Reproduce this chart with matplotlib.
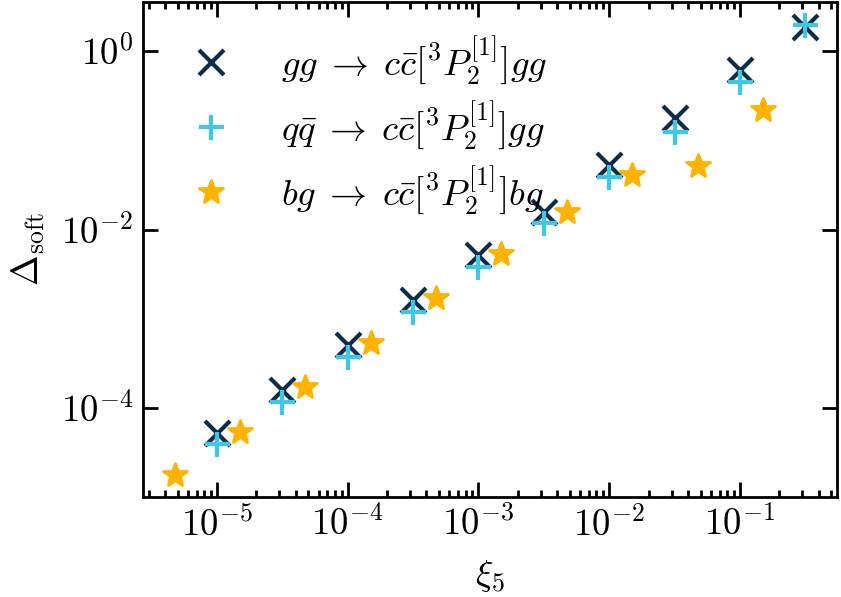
import matplotlib
matplotlib.use("Agg")
import matplotlib.pyplot as plt
from matplotlib.markers import MarkerStyle
import numpy as np

plt.rcParams['mathtext.fontset'] = 'cm'
plt.rcParams['font.family'] = 'serif'
plt.rcParams['font.serif'] = ['DejaVu Serif']

# data
xi_gg = [1e-5, 3.16e-5, 1e-4, 3.16e-4, 1e-3, 3.16e-3, 1e-2, 3.16e-2, 1e-1, 3.16e-1]
d_gg = [5.2e-5, 1.6e-4, 5.1e-4, 1.6e-3, 5.2e-3, 1.58e-2, 5.3e-2, 0.18, 0.62, 1.86]
xi_qq = [1e-5, 3.16e-5, 1e-4, 3.16e-4, 1e-3, 3.16e-3, 1e-2, 3.16e-2, 1e-1, 3.16e-1]
d_qq = [3.9e-5, 1.17e-4, 3.7e-4, 1.2e-3, 3.8e-3, 1.18e-2, 3.9e-2, 0.124, 0.45, 2.0]
xi_bg = [4.74e-6, 1.5e-5, 4.74e-5, 1.5e-4, 4.74e-4, 1.5e-3, 4.74e-3, 1.5e-2, 4.74e-2, 1.5e-1]
d_bg = [1.78e-5, 5.4e-5, 1.73e-4, 5.3e-4, 1.7e-3, 5.3e-3, 1.58e-2, 4.1e-2, 5.1e-2, 0.22]

labels = [r'$gg\;\to\;c\bar{c}[^3P_2^{[1]}]gg$',
          r'$q\bar{q}\;\to\;c\bar{c}[^3P_2^{[1]}]gg$',
          r'$bg\;\to\;c\bar{c}[^3P_2^{[1]}]bg$']
xlabel = r'$\xi_5$'
ylabel = r'$\Delta_{\rm soft}$'
xticks = [1e-5, 1e-4, 1e-3, 1e-2, 1e-1]
yticks = [1e-4, 1e-2, 1e0]

c_gg = '#0b2d4b'
c_qq = '#3ec7e6'
c_bg = '#ffb300'

fs = 26.5
fig = plt.figure(figsize=(8.41, 5.97), dpi=100)
ax = fig.add_axes([0.170, 0.1675, 0.825, 0.8291])

star = MarkerStyle('*', joinstyle='round')
ax.plot(xi_gg, d_gg, ls='none', marker='x', ms=18, mew=3, color=c_gg, label=labels[0])
ax.plot(xi_qq, d_qq, ls='none', marker='+', ms=18, mew=3, color=c_qq, label=labels[1])
ax.plot(xi_bg, d_bg, ls='none', marker=star, ms=18, mew=2, color=c_bg, mec=c_bg, label=labels[2])

ax.set_xscale('log')
ax.set_yscale('log')

def fmt(v):
    e = int(round(np.log10(v)))
    return r'$10^{%d}$' % e

ax.set_xticks(xticks)
ax.set_xticklabels([fmt(v) for v in xticks])
ax.set_yticks(yticks)
ax.set_yticklabels([fmt(v) for v in yticks])
ax.xaxis.set_minor_locator(matplotlib.ticker.LogLocator(base=10, subs=np.arange(2, 10), numticks=20))
ax.xaxis.set_minor_formatter(matplotlib.ticker.NullFormatter())
ax.yaxis.set_minor_locator(matplotlib.ticker.NullLocator())

ax.tick_params(which='both', direction='in', top=True, right=True, labelsize=fs, width=2)
ax.tick_params(which='major', length=10.5, pad=7)
ax.tick_params(which='minor', length=5)
for s in ax.spines.values():
    s.set_linewidth(2)

ax.set_xlabel(xlabel, fontsize=fs, labelpad=10)
ax.set_ylabel(ylabel, fontsize=fs, labelpad=10)

ax.legend(loc='upper left', frameon=False, fontsize=fs, handlelength=2.0,
          handletextpad=0.9, labelspacing=0.33, borderaxespad=0.4, borderpad=0.45)

fig.savefig('out.png', dpi=100)
